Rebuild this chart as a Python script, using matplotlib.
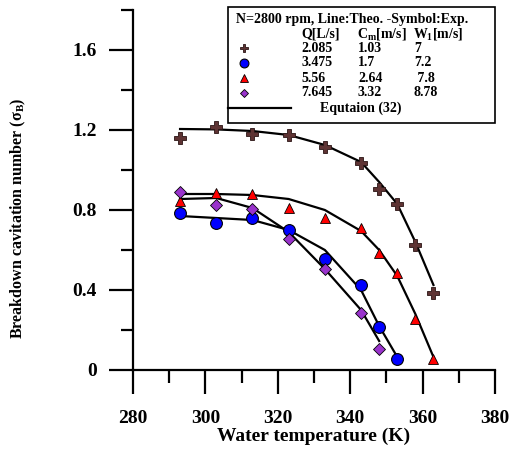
import matplotlib
matplotlib.use('Agg')
import matplotlib.pyplot as plt
from matplotlib.patches import Rectangle
from matplotlib.ticker import MultipleLocator

plt.rcParams['font.family'] = ['Liberation Serif', 'DejaVu Serif']
plt.rcParams['font.weight'] = 'bold'
plt.rcParams['mathtext.fontset'] = 'custom'
plt.rcParams['mathtext.rm'] = 'Liberation Serif:bold'
plt.rcParams['mathtext.it'] = 'Liberation Serif:italic:bold'
plt.rcParams['mathtext.bf'] = 'Liberation Serif:bold'

# Experimental points (symbols)
T_q1 = [293, 303, 313, 323, 333, 343, 348, 353, 358, 363]
exp_q1 = [1.16, 1.215, 1.18, 1.175, 1.115, 1.035, 0.905, 0.83, 0.625, 0.385]
T_q2 = [293, 303, 313, 323, 333, 343, 348, 353]
exp_q2 = [0.785, 0.735, 0.758, 0.70, 0.553, 0.423, 0.213, 0.055]
T_q3 = [293, 303, 313, 323, 333, 343, 348, 353, 358, 363]
exp_q3 = [0.846, 0.885, 0.88, 0.81, 0.758, 0.708, 0.587, 0.483, 0.257, 0.057]
T_q4 = [293, 303, 313, 323, 333, 343, 348]
exp_q4 = [0.89, 0.826, 0.805, 0.655, 0.503, 0.287, 0.105]

# Theoretical curves, Equation (32)
theo_q1 = [1.205, 1.203, 1.195, 1.175, 1.125, 1.04, 0.94, 0.83, 0.64, 0.425]
theo_q2 = [0.77, 0.76, 0.75, 0.70, 0.60, 0.40, 0.22, 0.065]
theo_q3 = [0.88, 0.88, 0.875, 0.855, 0.80, 0.695, 0.60, 0.47, 0.28, 0.065]
theo_q4 = [0.855, 0.86, 0.81, 0.69, 0.505, 0.30, 0.145]

Q = ['2.085', '3.475', '5.56', '7.645']
Cm = ['1.03', '1.7', '2.64', '3.32']
W1 = ['7', '7.2', ' 7.8', '8.78']

W, H = 511, 450
fig = plt.figure(figsize=(W / 100, H / 100), dpi=100)
ax = fig.add_axes([133 / W, 1 - 370 / H, (495 - 133) / W, (370 - 10) / H])


def px(x, y):
    return x / W, 1 - y / H


styles = [
    dict(marker='P', ms=8.5, mfc='#5e3333', mec='#2a1414', mew=0.6),
    dict(marker='o', ms=8.5, mfc='#0000ff', mec='#000000', mew=0.8),
    dict(marker='^', ms=7, mfc='#ff0000', mec='#000000', mew=0.6),
    dict(marker='D', ms=6, mfc='#9933cc', mec='#000000', mew=0.6),
]

series = [(T_q1, exp_q1, theo_q1), (T_q2, exp_q2, theo_q2),
          (T_q3, exp_q3, theo_q3), (T_q4, exp_q4, theo_q4)]

for (t, e, th), st in zip(series, styles):
    ax.plot(t, th, color='black', lw=1.6, zorder=2)
    ax.plot(t, e, ls='none', zorder=3, clip_on=False, **st)

ax.set_xlim(280, 380)
ax.set_ylim(0, 1.8)
ax.xaxis.set_major_locator(MultipleLocator(20))
ax.xaxis.set_minor_locator(MultipleLocator(10))
ax.yaxis.set_major_locator(MultipleLocator(0.4))
ax.yaxis.set_minor_locator(MultipleLocator(0.2))
ax.set_yticks([0, 0.4, 0.8, 1.2, 1.6])
ax.set_yticklabels(['0', '0.4', '0.8', '1.2', '1.6'])

ax.spines['top'].set_visible(False)
ax.spines['right'].set_visible(False)
ax.spines['left'].set_linewidth(1.6)
ax.spines['bottom'].set_linewidth(1.6)
ax.tick_params(which='major', direction='out', length=17, width=1.6,
               labelsize=14, pad=9)
ax.tick_params(axis='x', which='major', pad=12)
ax.tick_params(which='minor', direction='out', length=9, width=1.6)
for lab in ax.get_xticklabels() + ax.get_yticklabels():
    lab.set_fontweight('bold')

ax.set_xlabel('Water temperature (K)', fontsize=14, fontweight='bold', labelpad=0)
fig.text(18 / W, 1 - 218 / H, r'Breakdown cavitation number (σ$_\mathrm{B}$)',
         rotation=90, ha='center', va='center', fontsize=11.5, fontweight='bold')

# legend box drawn by hand
x0, y0 = px(228, 123)
x1, y1 = px(495, 7)
fig.patches.append(Rectangle((x0, y0), x1 - x0, y1 - y0, transform=fig.transFigure,
                             fill=True, facecolor='white', edgecolor='black',
                             lw=1.2, zorder=5))

fs = 10
fig.text(*px(236, 19), 'N=2800 rpm, Line:Theo. -Symbol:Exp.', fontsize=fs,
         va='center', zorder=6)
fig.text(*px(301, 34), 'Q[L/s]', fontsize=fs, va='center', zorder=6)
fig.text(*px(357, 34), r'C$_\mathrm{m}$[m/s]', fontsize=fs, va='center', zorder=6)
fig.text(*px(413, 34), r'W$_\mathrm{1}$[m/s]', fontsize=fs, va='center', zorder=6)

row_y = [48, 63, 78, 93]
for i, st in enumerate(styles):
    y = row_y[i]
    mk = dict(st)
    mk['ms'] = st['ms'] * 0.75
    fig.add_artist(plt.Line2D([244 / W], [1 - y / H], transform=fig.transFigure,
                              ls='none', zorder=6, **mk))
    fig.text(*px(301, y), Q[i], fontsize=fs, va='center', zorder=6)
    fig.text(*px(358, y), Cm[i], fontsize=fs, va='center', zorder=6)
    fig.text(*px(414, y), W1[i], fontsize=fs, va='center', zorder=6)

fig.add_artist(plt.Line2D([228 / W, 291 / W], [1 - 108 / H, 1 - 108 / H],
                          transform=fig.transFigure, color='black', lw=1.6, zorder=6))
fig.text(*px(320, 108), 'Equtaion (32)', fontsize=fs, va='center', zorder=6)

fig.savefig('out.png', dpi=100)
